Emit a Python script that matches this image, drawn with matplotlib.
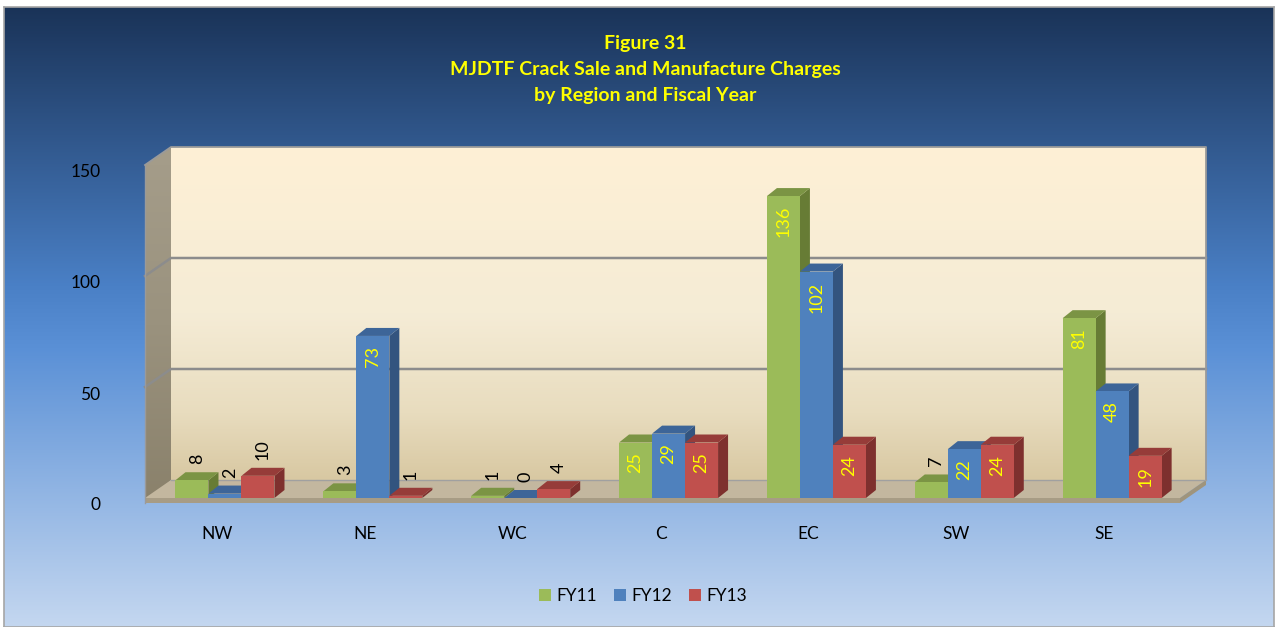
import numpy as np
import matplotlib
matplotlib.use("Agg")
import matplotlib.pyplot as plt
import matplotlib.transforms as mtransforms
from matplotlib.patches import Polygon, Patch
from matplotlib.colors import LinearSegmentedColormap

# datos
regions = ['NW', 'NE', 'WC', 'C', 'EC', 'SW', 'SE']
series = ['FY11', 'FY12', 'FY13']
fy11 = [8, 3, 1, 25, 136, 7, 81]
fy12 = [2, 73, 0, 29, 102, 22, 48]
fy13 = [10, 1, 4, 25, 24, 24, 19]
yticks = [0, 50, 100, 150]
title_lines = ['Figure 31',
               'MJDTF Crack Sale and Manufacture Charges',
               'by Region and Fiscal Year']

front_col = ['#9bbb59', '#4f81bd', '#c0504d']
side_col = ['#677c35', '#33547f', '#7e302e']
top_col = ['#7b9444', '#3d6598', '#963c39']

plt.rcParams['font.family'] = ['Lato', 'DejaVu Sans']

W, H = 1277, 627
fig = plt.figure(figsize=(W / 100, H / 100), dpi=100)
fig.patch.set_facecolor('white')

# fondo con degradado azul
bg = fig.add_axes([4 / W, 0, 1270 / W, 620 / H])
bg_cmap = LinearSegmentedColormap.from_list(
    'bg', [(0, '#1a3358'), (0.45, '#4a80c6'), (0.55, '#5a90d6'), (1, '#c4d7f0')])
bg.imshow(np.linspace(0, 1, 256).reshape(-1, 1), cmap=bg_cmap, aspect='auto',
          extent=(0, 1, 0, 1))
bg.set_xticks([])
bg.set_yticks([])
for s in bg.spines.values():
    s.set_color('#a6a6a6')
    s.set_linewidth(1.2)

# ejes principales (plano frontal)
ax = fig.add_axes([145 / W, (H - 498) / H, 1035 / W, 333 / H])
xlim = (-0.541, 6.459)
ylim = (0, 150)
ax.set_xlim(xlim)
ax.set_ylim(ylim)
ax.patch.set_alpha(0)
for s in ax.spines.values():
    s.set_visible(False)


def px(dx, dy):
    p0 = ax.transData.transform((0, 0))
    return ax.transData.inverted().transform(p0 + np.array([dx, dy]))


wdx, wdy = px(26, 18)   # profundidad de paredes
bdx, bdy = px(10, 8)    # profundidad de barras
sdy = px(0, 5)[1]       # grosor del piso
xl, xr = xlim
ymax = ylim[1]

# pared trasera
wall_cmap = LinearSegmentedColormap.from_list(
    'wall', [(0, '#fef0d5'), (0.5, '#f5ecd6'), (0.8, '#e8dcbe'), (1, '#d8c8a2')])
ax.imshow(np.linspace(0, 1, 256).reshape(-1, 1), cmap=wall_cmap, aspect='auto',
          extent=(xl + wdx, xr + wdx, wdy, ymax + wdy), zorder=0, clip_on=False)

# pared izquierda
lw_pts = [(xl, -sdy), (xl, ymax), (xl + wdx, ymax + wdy), (xl + wdx, wdy)]
ax.add_patch(Polygon(lw_pts, closed=True, facecolor='#a49c89', edgecolor='none',
                     zorder=0, clip_on=False))
lw_poly = Polygon(lw_pts, closed=True, facecolor='none', edgecolor='none')
ax.add_patch(lw_poly)
lw_cmap = LinearSegmentedColormap.from_list('lw', ['#a59d8a', '#9a927e', '#8a816b'])
im = ax.imshow(np.linspace(0, 1, 256).reshape(-1, 1), cmap=lw_cmap, aspect='auto',
               extent=(xl, xl + wdx, -sdy, ymax + wdy), zorder=0.5)
im.set_clip_path(lw_poly)

# piso
ax.add_patch(Polygon([(xl, 0), (xr, 0), (xr + wdx, wdy), (xl + wdx, wdy)],
                     closed=True, facecolor='#c3b79f', edgecolor='none',
                     zorder=1, clip_on=False))
ax.add_patch(Polygon([(xl, 0), (xr, 0), (xr, -sdy), (xl, -sdy)],
                     closed=True, facecolor='#a79c85', edgecolor='none',
                     zorder=1, clip_on=False))
ax.add_patch(Polygon([(xr, 0), (xr + wdx, wdy), (xr + wdx, wdy - sdy), (xr, -sdy)],
                     closed=True, facecolor='#9f947c', edgecolor='none',
                     zorder=1, clip_on=False))

# lineas de cuadricula
for g in yticks[1:-1]:
    ax.plot([xl, xl + wdx, xr + wdx], [g, g + wdy, g + wdy],
            color='#8c8c8c', lw=1.8, zorder=2, clip_on=False)
ax.plot([xl, xl + wdx, xr + wdx, xr + wdx], [ymax, ymax + wdy, ymax + wdy, wdy],
        color='#9a9a9a', lw=1.3, zorder=2, clip_on=False)
ax.plot([xl + wdx, xr + wdx], [wdy, wdy], color='#a0a0a0', lw=1.0, zorder=2,
        clip_on=False)
ax.plot([xl, xl], [-sdy, ymax], color='#9a9a9a', lw=1.0, zorder=2, clip_on=False)

# barras 3D
w = 0.2232
z = 10
for i in range(len(regions)):
    for k, vals in enumerate([fy11, fy12, fy13]):
        v = vals[i]
        x0 = i + (k - 1.5) * w
        x1 = x0 + w
        ax.add_patch(Polygon([(x1, 0), (x1, v), (x1 + bdx, v + bdy), (x1 + bdx, bdy)],
                             closed=True, facecolor=side_col[k], edgecolor='none',
                             zorder=z))
        ax.add_patch(Polygon([(x0, v), (x1, v), (x1 + bdx, v + bdy), (x0 + bdx, v + bdy)],
                             closed=True, facecolor=top_col[k], edgecolor='none',
                             zorder=z + 1))
        ax.bar(x0, v, width=w, align='edge', color=front_col[k], zorder=z + 2)
        if v >= 15:
            ax.annotate(str(v), (x0 + w / 2, v), xytext=(0, -10),
                        textcoords='offset pixels', rotation=90, ha='center',
                        va='top', color='#ffff00', fontsize=13, zorder=200)
        else:
            ax.annotate(str(v), (x0 + w / 2 + bdx / 2, v + bdy), xytext=(0, 8),
                        textcoords='offset pixels', rotation=90, ha='center',
                        va='bottom', color='black', fontsize=13, zorder=200)
        z += 3

ax.set_xlim(xlim)
ax.set_ylim(ylim)

# etiquetas de ejes
ax.set_yticks(yticks)
ax.tick_params(axis='y', length=0, pad=32, labelsize=12.5, labelcolor='black')
yoff = mtransforms.ScaledTranslation(0, -6 / 100, fig.dpi_scale_trans)
for lab in ax.get_yticklabels():
    lab.set_transform(lab.get_transform() + yoff)

ax.set_xticks(range(len(regions)), regions)
ax.tick_params(axis='x', length=0, pad=20, labelsize=12.5, labelcolor='black')
xoff = mtransforms.ScaledTranslation(-8 / 100, 0, fig.dpi_scale_trans)
for lab in ax.get_xticklabels():
    lab.set_transform(lab.get_transform() + xoff)

# titulo
for j, line in enumerate(title_lines):
    fig.text(645 / W, 1 - (43 + 26.5 * j) / H, line, ha='center', va='center',
             color='#ffff00', fontweight='bold', fontsize=14)

# leyenda
handles = [Patch(facecolor=c, edgecolor='none') for c in front_col]
fig.legend(handles, series, loc='center', bbox_to_anchor=(643 / W, 1 - 596 / H),
           ncol=3, frameon=False, fontsize=12.5, handlelength=0.7,
           handleheight=0.7, handletextpad=0.3, columnspacing=1.0)

fig.savefig('out.png', dpi=100)
